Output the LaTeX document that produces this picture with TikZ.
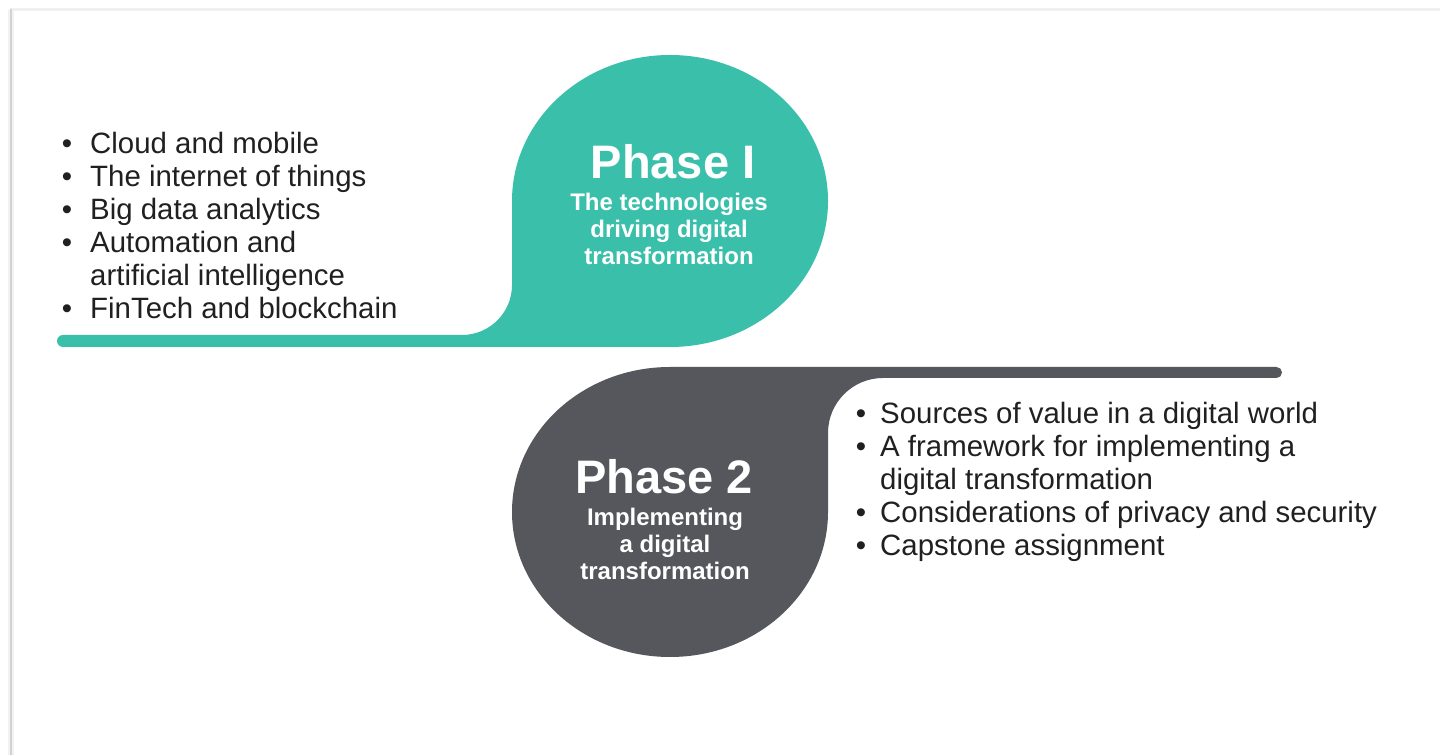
\documentclass[tikz,border=0pt]{standalone}
\usepackage{fontspec}
\setmainfont{Liberation Sans}
\definecolor{tealc}{RGB}{58,191,171}
\definecolor{greyc}{RGB}{85,87,93}
\definecolor{txt}{RGB}{32,32,32}
\tikzset{
  title/.style={anchor=base, inner sep=0pt, text=white, font=\fontsize{47}{50}\selectfont\bfseries},
  sub/.style={anchor=base, inner sep=0pt, text=white, font=\fontsize{24}{27}\selectfont\bfseries},
  itemL/.style={anchor=base west, inner sep=0pt, text=txt, font=\fontsize{29.4}{33}\selectfont},
}
\newcommand{\bulL}{\llap{\textbullet\hspace{18pt}}}
\newcommand{\bulR}{\llap{\textbullet\hspace{14pt}}}
\begin{document}
\begin{tikzpicture}[x=1pt,y=1pt]
\useasboundingbox (0,0) rectangle (1440,755);
\fill[white] (0,0) rectangle (1440,755);
% frame
\draw[line width=3pt, gray!12] (10,745) -- (1440,745);
\draw[line width=6pt, gray!10] (11,0) -- (11,745);
\draw[line width=2.5pt, gray!35] (11,0) -- (11,746);
% teal shape
\fill[tealc] (63,408) -- (670,408)
  arc[start angle=-90, end angle=90, x radius=158pt, y radius=146pt]
  arc[start angle=90, end angle=180, x radius=158pt, y radius=146pt]
  -- (512,470) arc[start angle=0, end angle=-90, radius=50pt]
  -- (63,420) arc[start angle=90, end angle=270, radius=6pt] -- cycle;
% grey shape
\fill[greyc] (670,388)
  arc[start angle=90, end angle=270, x radius=158pt, y radius=145pt]
  arc[start angle=270, end angle=360, x radius=158pt, y radius=145pt]
  -- (828,322) arc[start angle=180, end angle=90, radius=55pt]
  -- (1276.5,377) arc[start angle=-90, end angle=90, radius=5.5pt] -- cycle;
% Phase I
\node[title] (p1) at (673,576) {Phase I};
\node[sub] (p1a) at (669,544) {The technologies};
\node[sub] (p1b) at (669,517) {driving digital};
\node[sub] (p1c) at (669,490) {transformation};
% Phase 2
\node[title] (p2) at (664,261) {Phase 2};
\node[sub] (p2a) at (665,229) {Implementing};
\node[sub] (p2b) at (665,202) {a digital};
\node[sub] (p2c) at (665,175) {transformation};
% left list
\node[itemL] (l1) at (90,601) {\bulL Cloud and mobile};
\node[itemL] (l2) at (90,568) {\bulL The internet of things};
\node[itemL] (l3) at (90,535) {\bulL Big data analytics};
\node[itemL] (l4) at (90,502) {\bulL Automation and};
\node[itemL] (l5) at (90,469) {artificial intelligence};
\node[itemL] (l6) at (90,436) {\bulL FinTech and blockchain};
% right list
\node[itemL] (r1) at (880,331) {\bulR Sources of value in a digital world};
\node[itemL] (r2) at (880,298) {\bulR A framework for implementing a};
\node[itemL] (r3) at (880,265) {digital transformation};
\node[itemL] (r4) at (880,232) {\bulR Considerations of privacy and security};
\node[itemL] (r5) at (880,199) {\bulR Capstone assignment};
\end{tikzpicture}
\end{document}
